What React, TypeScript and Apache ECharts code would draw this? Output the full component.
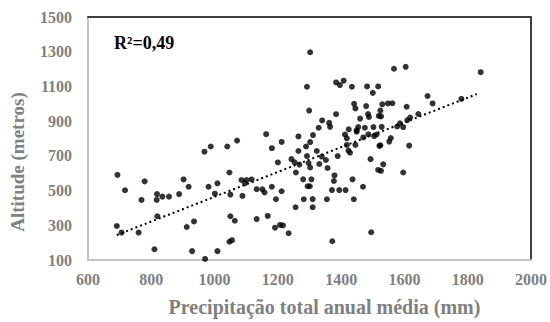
import React, { useEffect, useRef } from "react";
import * as echarts from "echarts";

const precipitacao = [
  693, 717, 779, 769, 818, 817, 835, 856, 888, 902, 918, 968, 988, 1040, 1071, 1047, 1009, 981, 1001, 1050,
  819, 691, 706, 760, 912, 935, 1050, 1064, 1047, 1055, 810, 929, 970, 1009,
  1302, 1292, 1299, 1384, 1396, 1408, 1434, 1482, 1500, 1517, 1441, 1445, 1479, 1485, 1488, 1519,
  1384, 1340, 1362, 1365, 1329, 1311, 1265, 1163, 1460, 1454, 1449, 1424, 1412, 1475, 1486, 1502, 1512, 1470, 1418, 1449,
  1212, 1181, 1265, 1289, 1302, 1323, 1418, 1423, 1428, 1445, 1521,
  1200, 1243, 1253, 1268, 1257, 1292, 1297, 1302, 1331, 1339, 1352, 1357, 1389, 1493, 1517,
  1085, 1101, 1117, 1096, 1088, 1133, 1151, 1158, 1181, 1212, 1194, 1280, 1306, 1294, 1301, 1282, 1310, 1256, 1310, 1355,
  1379, 1377, 1371, 1394, 1414, 1436, 1440, 1469, 1133, 1168, 1191, 1207, 1216, 1234, 1372, 1495,
  1567, 1604, 1841, 1530, 1548, 1562, 1524, 1526, 1586, 1577, 1607, 1609, 1673, 1689, 1618, 1644, 1596, 1528, 1557, 1780,
  1504, 1524, 1552, 1615, 1533, 1526, 1596,
];

const altitude = [
  590, 502, 553, 446, 480, 446, 465, 465, 480, 564, 522, 724, 754, 754, 788, 604, 542, 522, 482, 477,
  352, 296, 258, 258, 290, 322, 352, 326, 205, 214, 162, 151, 106, 151,
  1297, 1098, 961, 1123, 1108, 1133, 1098, 1100, 1063, 1100, 1000, 973, 987, 941, 924, 930,
  940, 904, 890, 867, 862, 820, 812, 825, 915, 866, 847, 853, 823, 862, 824, 866, 823, 806, 801, 839,
  780, 744, 728, 754, 779, 728, 763, 731, 718, 763, 757,
  662, 681, 663, 650, 604, 699, 659, 633, 653, 696, 676, 630, 699, 681, 619,
  561, 561, 564, 542, 469, 508, 507, 489, 522, 496, 450, 565, 565, 525, 525, 450, 451, 404, 404, 450,
  587, 555, 503, 503, 503, 565, 450, 522, 336, 354, 286, 302, 299, 254, 208, 260,
  1202, 1213, 1182, 997, 1002, 1003, 961, 927, 888, 869, 983, 905, 1045, 1002, 921, 941, 866, 867, 803, 1028,
  814, 761, 782, 759, 651, 614, 604,
];

const trendX = [691, 1829];
const trendY = [244, 1056];

const xTicks = { min: 600, max: 2000, interval: 200 };
const yTicks = { min: 100, max: 1500, interval: 200 };

const r2Label = "R²=0,49";
const xName = "Precipitação total anual média (mm)";
const yName = "Altitude (metros)";

export default function App() {
  const ref = useRef<HTMLDivElement>(null);
  useEffect(() => {
    if (!ref.current) return;
    const chart = echarts.init(ref.current, null, { renderer: "svg" });
    const font = "'Liberation Serif', 'DejaVu Serif', serif";
    const gray = "#808080";
    const plain = (v: number) => String(v);
    chart.setOption({
      animation: false,
      backgroundColor: "#ffffff",
      grid: { left: 88, right: 19, top: 17, bottom: 62 },
      xAxis: [
        {
          type: "value",
          min: xTicks.min,
          max: xTicks.max,
          interval: xTicks.interval,
          splitLine: { show: false },
          axisTick: { show: false },
          axisLine: { show: true, lineStyle: { color: "#c4c4c4", width: 2 } },
          axisLabel: { color: gray, fontFamily: font, fontSize: 16, fontWeight: "bold", margin: 11, formatter: plain },
          name: xName,
          nameLocation: "middle",
          nameGap: 37,
          nameTextStyle: {
            color: gray,
            fontFamily: font,
            fontSize: 20,
            fontWeight: "bold",
            padding: [0, 0, 0, 30],
          },
        },
        {
          type: "value",
          position: "top",
          min: xTicks.min,
          max: xTicks.max,
          splitLine: { show: false },
          axisTick: { show: false },
          axisLabel: { show: false },
          axisLine: { show: true, lineStyle: { color: "#404040", width: 2 } },
        },
      ],
      yAxis: [
        {
          type: "value",
          min: yTicks.min,
          max: yTicks.max,
          interval: yTicks.interval,
          splitLine: { show: false },
          axisTick: { show: false },
          axisLine: { show: true, lineStyle: { color: "#c4c4c4", width: 2 } },
          axisLabel: { color: gray, fontFamily: font, fontSize: 16, fontWeight: "bold", margin: 16, formatter: plain },
          name: yName,
          nameLocation: "middle",
          nameGap: 61,
          nameTextStyle: {
            color: gray,
            fontFamily: font,
            fontSize: 19,
            fontWeight: "bold",
            padding: [0, 47, 0, 0],
          },
        },
        {
          type: "value",
          position: "right",
          min: yTicks.min,
          max: yTicks.max,
          splitLine: { show: false },
          axisTick: { show: false },
          axisLabel: { show: false },
          axisLine: { show: true, lineStyle: { color: "#404040", width: 2 } },
        },
      ],
      graphic: [
        {
          type: "text",
          left: 114,
          top: 34,
          style: {
            text: r2Label,
            fill: "#000000",
            font: "bold 18px 'Liberation Serif', 'DejaVu Serif', serif",
          },
        },
      ],
      series: [
        {
          type: "scatter",
          xAxisIndex: 0,
          yAxisIndex: 0,
          symbolSize: 6,
          itemStyle: { color: "#000000" },
          data: precipitacao.map((p, i) => [p, altitude[i]]),
          z: 3,
        },
        {
          type: "line",
          xAxisIndex: 0,
          yAxisIndex: 0,
          symbol: "none",
          data: trendX.map((x, i) => [x, trendY[i]]),
          lineStyle: { color: "#000000", width: 2, type: [2, 3] },
          z: 2,
        },
      ],
    });
    return () => chart.dispose();
  }, []);
  return (
    <div
      ref={ref}
      style={{ position: "fixed", left: 0, top: 0, width: 550, height: 322 }}
    />
  );
}
